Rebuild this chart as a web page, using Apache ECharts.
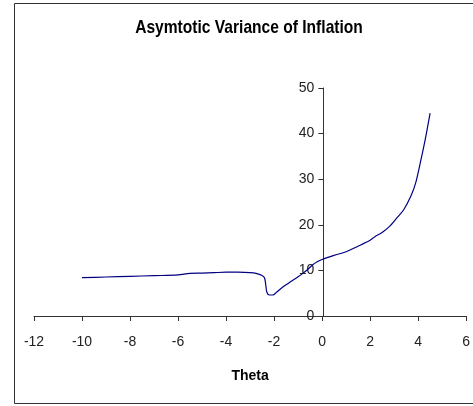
<!DOCTYPE html>
<html>
<head>
<meta charset="utf-8">
<title>Asymtotic Variance of Inflation</title>
<script src="https://cdn.jsdelivr.net/npm/echarts@6/dist/echarts.min.js"></script>
<style>
  html, body { margin: 0; padding: 0; background: #fff; }
  #chart { width: 473px; height: 406px; }
</style>
</head>
<body>
<div id="chart"></div>
<script>
// theta values and the variance
var theta = [-10, -9, -8, -7, -6, -5.5, -5, -4.5, -4, -3.5, -3, -2.75, -2.5, -2.4, -2.35, -2.3, -2.2, -2.05, -1.9, -1.65, -1.4, -1.2, -1, -0.8, -0.6, -0.4, -0.2, 0, 0.5, 1, 1.5, 2, 2.2, 2.5, 2.8, 3.1, 3.4, 3.7, 3.9, 4.1, 4.3, 4.5];
var variance = [8.4, 8.55, 8.7, 8.85, 9.0, 9.35, 9.4, 9.5, 9.6, 9.6, 9.5, 9.35, 8.9, 8.4, 7.0, 5.2, 4.6, 4.6, 5.2, 6.3, 7.2, 7.9, 8.6, 9.35, 10.2, 11.2, 11.9, 12.4, 13.3, 14.1, 15.3, 16.6, 17.4, 18.3, 19.6, 21.4, 23.3, 26.3, 29.2, 33.8, 38.8, 44.5];

var xMin = -12, xMax = 6, xStep = 2;
var yMin = 0, yMax = 50, yStep = 10;

var points = [];
for (var i = 0; i < theta.length; i++) {
    points.push([theta[i], variance[i]]);
}

var font = '"Liberation Sans", Arial, sans-serif';
var gridLeft = 34, gridRight = 5;
var plotWidth = 473 - gridLeft - gridRight;
// the value axis sits on theta = 0, so shift it in from the grid's left edge
var yAxisShift = plotWidth * (0 - xMin) / (xMax - xMin);

var chart = echarts.init(document.getElementById('chart'), null, { renderer: 'canvas' });

chart.setOption({
    animation: false,
    backgroundColor: '#fff',
    graphic: [{
        type: 'rect',
        shape: { x: 14.5, y: 3.5, width: 470, height: 400 },
        style: { fill: 'none', stroke: '#333', lineWidth: 1 },
        silent: true
    }, {
        // title drawn narrow like the original
        type: 'text',
        x: 249, y: 28,
        scaleX: 0.82,
        style: {
            text: 'Asymtotic Variance of Inflation',
            x: 0, y: 0,
            align: 'center', verticalAlign: 'middle',
            font: 'bold 19px ' + font,
            fill: '#000'
        },
        silent: true
    }],
    grid: { left: gridLeft, right: gridRight, top: 88, bottom: 90 },
    xAxis: {
        type: 'value',
        min: xMin, max: xMax, interval: xStep,
        name: 'Theta',
        nameLocation: 'middle',
        nameGap: 53,
        nameTextStyle: { fontFamily: font, fontSize: 14, fontWeight: 'bold', color: '#000' },
        splitLine: { show: false },
        axisLine: { onZero: true, lineStyle: { color: '#333', width: 1 } },
        axisTick: { show: true, length: 5, lineStyle: { color: '#333' } },
        axisLabel: { fontFamily: font, fontSize: 14, color: '#222', margin: 19 }
    },
    yAxis: {
        type: 'value',
        min: yMin, max: yMax, interval: yStep,
        position: 'left',
        offset: -yAxisShift,
        splitLine: { show: false },
        axisLine: { show: true, onZero: false, lineStyle: { color: '#333', width: 1 } },
        axisTick: { show: true, length: 5, lineStyle: { color: '#333' } },
        axisLabel: { fontFamily: font, fontSize: 14, color: '#222', margin: 9 }
    },
    series: [{
        type: 'line',
        data: points,
        smooth: 0.3,
        showSymbol: false,
        lineStyle: { color: '#000080', width: 1.2 }
    }]
});
</script>
</body>
</html>
